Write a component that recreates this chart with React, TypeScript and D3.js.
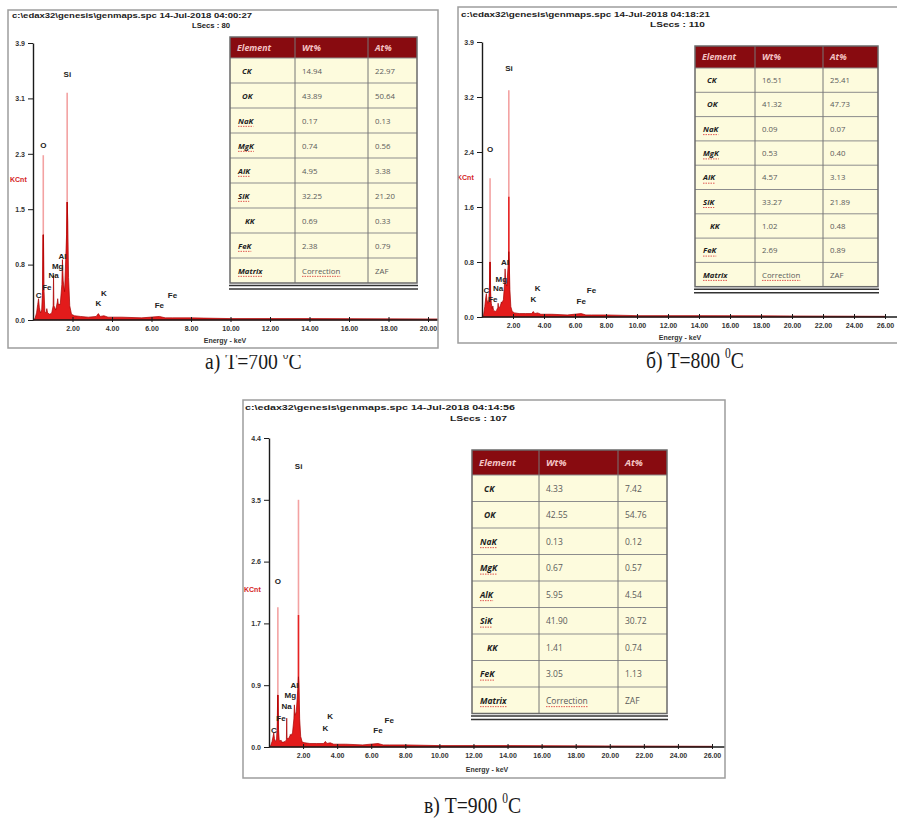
import React, { useEffect, useRef } from 'react';
import * as d3 from 'd3';

const W = 897;
const H = 818;

const FONT_SANS = "'Liberation Sans', Arial, sans-serif";
const FONT_TABLE = "'Open Sans', 'Liberation Sans', sans-serif";
const FONT_SERIF = "'Liberation Serif', 'Times New Roman', serif";

// quantification tables
const ELEMENTS = ['CK', 'OK', 'NaK', 'MgK', 'AlK', 'SiK', 'KK', 'FeK'];
const WT_700 = ['14.94', '43.89', '0.17', '0.74', '4.95', '32.25', '0.69', '2.38'];
const AT_700 = ['22.97', '50.64', '0.13', '0.56', '3.38', '21.20', '0.33', '0.79'];
const WT_800 = ['16.51', '41.32', '0.09', '0.53', '4.57', '33.27', '1.02', '2.69'];
const AT_800 = ['25.41', '47.73', '0.07', '0.40', '3.13', '21.89', '0.48', '0.89'];
const WT_900 = ['4.33', '42.55', '0.13', '0.67', '5.95', '41.90', '1.41', '3.05'];
const AT_900 = ['7.42', '54.76', '0.12', '0.57', '4.54', '30.72', '0.74', '1.13'];

// axis ticks
const X_TICKS = [2, 4, 6, 8, 10, 12, 14, 16, 18, 20, 22, 24, 26];
const Y_LABELS_700 = ['0.0', '0.8', '1.5', '2.3', '3.1', '3.9'];
const Y_LABELS_800 = ['0.0', '0.8', '1.6', '2.4', '3.2', '3.9'];
const Y_LABELS_900 = ['0.0', '0.9', '1.7', '2.6', '3.5', '4.4'];

// spectra (keV, KCnt)
const SPEC_KEV = [0.00, 0.10, 0.18, 0.24, 0.28, 0.32, 0.38, 0.44, 0.48, 0.51, 0.53, 0.56, 0.60, 0.66, 0.70, 0.74, 0.85, 0.95, 1.02, 1.04, 1.06, 1.15, 1.23, 1.25, 1.28, 1.38, 1.46, 1.49, 1.53, 1.60, 1.70, 1.73, 1.76, 1.80, 1.86, 1.95, 2.10, 2.40, 2.80, 3.20, 3.31, 3.40, 3.59, 3.80, 4.50, 5.50, 6.40, 6.70, 7.06, 8.00, 10.0, 14.0, 20.0, 26.0];
const COUNTS_700 = [0, 0.02, 0.10, 0.22, 0.30, 0.18, 0.10, 0.14, 0.40, 1.20, 1.20, 0.40, 0.12, 0.10, 0.16, 0.10, 0.08, 0.10, 0.20, 0.63, 0.20, 0.14, 0.25, 0.30, 0.22, 0.22, 0.50, 0.85, 0.55, 0.40, 1.20, 1.66, 1.40, 0.60, 0.20, 0.08, 0.06, 0.05, 0.04, 0.05, 0.09, 0.05, 0.06, 0.04, 0.04, 0.03, 0.05, 0.03, 0.03, 0.03, 0.02, 0.02, 0.015, 0.01];
const COUNTS_800 = [0, 0.03, 0.15, 0.28, 0.34, 0.25, 0.20, 0.25, 0.45, 0.80, 0.80, 0.35, 0.20, 0.12, 0.16, 0.10, 0.08, 0.10, 0.14, 0.20, 0.15, 0.14, 0.20, 0.22, 0.20, 0.25, 0.50, 0.70, 0.50, 0.45, 0.80, 0.95, 0.80, 0.40, 0.15, 0.08, 0.06, 0.05, 0.05, 0.05, 0.08, 0.05, 0.06, 0.04, 0.04, 0.03, 0.05, 0.03, 0.03, 0.03, 0.02, 0.02, 0.015, 0.01];
const COUNTS_900 = [0, 0.02, 0.08, 0.15, 0.20, 0.12, 0.08, 0.10, 0.30, 0.74, 0.74, 0.25, 0.10, 0.08, 0.10, 0.07, 0.07, 0.08, 0.10, 0.41, 0.12, 0.12, 0.16, 0.18, 0.16, 0.20, 0.40, 0.60, 0.45, 0.50, 0.85, 1.00, 0.85, 0.40, 0.15, 0.07, 0.06, 0.05, 0.05, 0.05, 0.08, 0.05, 0.06, 0.04, 0.04, 0.03, 0.05, 0.03, 0.03, 0.03, 0.02, 0.02, 0.015, 0.01];

// thin peak tips (O and Si)
const TIP_KEV = [0.52, 1.73];
const TIP_700 = [2.32, 3.2];
const MID_700 = [1.2, 1.66];
const TIP_800 = [2.02, 3.3];
const MID_800 = [0.8, 1.75];
const TIP_900 = [1.99, 3.52];
const MID_900 = [0.74, 1.88];

// line markers
const LINE_NAMES = ['Si', 'O', 'Al', 'Mg', 'Na', 'Fe', 'C', 'K', 'K', 'Fe', 'Fe'];
const LINE_KEV = [1.74, 0.52, 1.49, 1.25, 1.04, 0.70, 0.28, 3.59, 3.31, 7.06, 6.40];
const LABEL_Y_700 = [3.45, 2.46, 0.90, 0.76, 0.62, 0.46, 0.35, 0.38, 0.23, 0.34, 0.20];
const LABEL_Y_800 = [3.62, 2.43, 0.79, 0.54, 0.41, 0.25, 0.39, 0.41, 0.26, 0.38, 0.23];
const LABEL_Y_900 = [3.99, 2.36, 0.87, 0.73, 0.57, 0.40, 0.24, 0.43, 0.27, 0.38, 0.23];

const PANELS = [
  {
    id: 'a', letter: 'а)', temp: '700',
    header: 'c:\\edax32\\genesis\\genmaps.spc  14-Jul-2018 04:00:27', lsecs: 'LSecs : 80',
    yMax: 3.9, yLabels: Y_LABELS_700, counts: COUNTS_700, tips: TIP_700, mids: MID_700, labelY: LABEL_Y_700,
    wt: WT_700, at: AT_700,
    frame: [8, 10, 430, 338], x0: 33, x1: 546.5, y0: 320, yTop: 43,
    h1: [12, 18, 240], h2: [192, 28, 38], kcnt: [10, 182], energy: [225, 343],
    table: { cols: [230, 295, 368, 417], top: 37, headH: 21, rowH: 25, fs: 7.8, hfs: 8.8 },
    caption: [205, 369], capClip: 355,
  },
  {
    id: 'b', letter: 'б)', temp: '800',
    header: 'c:\\edax32\\genesis\\genmaps.spc  14-Jul-2018 04:18:21', lsecs: 'LSecs : 110',
    yMax: 4.0, yLabels: Y_LABELS_800, counts: COUNTS_800, tips: TIP_800, mids: MID_800, labelY: LABEL_Y_800,
    wt: WT_800, at: AT_800,
    frame: [458, 7, 460, 336], x0: 482, x1: 885, y0: 317, yTop: 42,
    h1: [461, 17, 249], h2: [650, 27, 55], kcnt: [457, 180], energy: [680, 340],
    table: { cols: [695, 755, 823, 878], top: 46, headH: 22, rowH: 24.3, fs: 7.8, hfs: 8.8 },
    caption: [646, 368], capClip: 0,
  },
  {
    id: 'c', letter: 'в)', temp: '900',
    header: 'c:\\edax32\\genesis\\genmaps.spc  14-Jul-2018 04:14:56', lsecs: 'LSecs : 107',
    yMax: 4.4, yLabels: Y_LABELS_900, counts: COUNTS_900, tips: TIP_900, mids: MID_900, labelY: LABEL_Y_900,
    wt: WT_900, at: AT_900,
    frame: [243, 400, 482, 378], x0: 269, x1: 712, y0: 747, yTop: 438,
    h1: [245, 410, 270], h2: [450, 421, 57], kcnt: [244, 592], energy: [487, 772],
    table: { cols: [472, 539, 618, 667], top: 450, headH: 25, rowH: 26.5, fs: 8.5, hfs: 9.5 },
    caption: [424, 813], capClip: 0,
  },
];

type PanelSpec = typeof PANELS[number];

const SPELL_MARKED = new Set(['NaK', 'MgK', 'AlK', 'SiK', 'FeK', 'Matrix', 'Correction']);

function drawTable(g: d3.Selection<SVGGElement, unknown, null, undefined>, p: PanelSpec) {
  const t = p.table;
  const [c0, c1, c2, c3] = t.cols;
  const rowNames = [...ELEMENTS, 'Matrix'];
  const rows = [...ELEMENTS.map((e, i) => [e, p.wt[i], p.at[i]]), ['Matrix', 'Correction', 'ZAF']];
  const bodyTop = t.top + t.headH;
  const bottom = bodyTop + rowNames.length * t.rowH;
  const band = d3.scaleBand().domain(rowNames).range([bodyTop, bottom]);

  const tg = g.append('g');
  tg.append('rect').attr('x', c0).attr('y', t.top).attr('width', c3 - c0).attr('height', bottom - t.top).attr('fill', '#fdfbdd');
  tg.append('rect').attr('x', c0).attr('y', t.top).attr('width', c3 - c0).attr('height', t.headH).attr('fill', '#880b10');

  // row separators
  tg.selectAll('line.row')
    .data(rowNames)
    .join('line')
    .attr('x1', c0).attr('x2', c3)
    .attr('y1', d => band(d)!).attr('y2', d => band(d)!)
    .attr('stroke', '#8d8d8d').attr('stroke-width', 1);

  tg.selectAll('line.col')
    .data([c1, c2])
    .join('line')
    .attr('x1', d => d).attr('x2', d => d)
    .attr('y1', t.top).attr('y2', bottom)
    .attr('stroke', '#777').attr('stroke-width', 1);

  tg.append('rect').attr('x', c0).attr('y', t.top).attr('width', c3 - c0).attr('height', bottom - t.top)
    .attr('fill', 'none').attr('stroke', '#6a6a6a').attr('stroke-width', 1.5);

  // double rule under the table
  [2.5, 6].forEach(off => {
    tg.append('line').attr('x1', c0 - 1).attr('x2', c3 + 1).attr('y1', bottom + off).attr('y2', bottom + off)
      .attr('stroke', '#333').attr('stroke-width', 1.6);
  });

  // header
  ['Element', 'Wt%', 'At%'].forEach((h, i) => {
    tg.append('text')
      .attr('x', t.cols[i] + 7).attr('y', t.top + t.headH / 2)
      .attr('dominant-baseline', 'central')
      .attr('font-family', FONT_TABLE).attr('font-size', t.hfs)
      .attr('font-style', 'italic').attr('font-weight', 'bold')
      .attr('fill', '#f4c4c4')
      .text(h);
  });

  rows.forEach((r, ri) => {
    const cy = band(rowNames[ri])! + band.bandwidth() / 2;
    r.forEach((val, ci) => {
      const isName = ci === 0;
      const indent = isName ? (['CK', 'OK'].includes(val) ? 12 : val === 'KK' ? 15 : 8) : 7;
      const txt = tg.append('text')
        .attr('x', t.cols[ci] + indent).attr('y', cy)
        .attr('dominant-baseline', 'central')
        .attr('font-family', FONT_TABLE).attr('font-size', t.fs)
        .attr('font-style', isName ? 'italic' : 'normal')
        .attr('font-weight', isName ? 'bold' : 'normal')
        .attr('fill', isName ? '#1e1e1e' : '#5a5a5a')
        .text(val);
      if (SPELL_MARKED.has(val)) {
        const w = (txt.node() as SVGTextElement).getComputedTextLength();
        tg.append('line')
          .attr('x1', t.cols[ci] + indent).attr('x2', t.cols[ci] + indent + w)
          .attr('y1', cy + t.fs * 0.75).attr('y2', cy + t.fs * 0.75)
          .attr('stroke', '#d83030').attr('stroke-width', 0.8).attr('stroke-dasharray', '1.5,1');
      }
    });
  });
}

function drawPanel(svg: d3.Selection<SVGSVGElement, unknown, null, undefined>, defs: d3.Selection<SVGDefsElement, unknown, null, undefined>, p: PanelSpec) {
  const [fx, fy, fw, fh] = p.frame;
  defs.append('clipPath').attr('id', `clip-${p.id}`)
    .append('rect').attr('x', fx).attr('y', fy).attr('width', fw).attr('height', fh);

  const g = svg.append('g').attr('clip-path', `url(#clip-${p.id})`);
  g.append('rect').attr('x', fx).attr('y', fy).attr('width', fw).attr('height', fh).attr('fill', '#fff');

  const x = d3.scaleLinear().domain([0, 26]).range([p.x0, p.x1]);
  const y = d3.scaleLinear().domain([0, p.yMax]).range([p.y0, p.yTop]);

  // pale peak tips, then brighter middle part, then filled spectrum
  g.selectAll('line.tip')
    .data(d3.zip(TIP_KEV, p.tips))
    .join('line')
    .attr('x1', d => x(d[0])).attr('x2', d => x(d[0]))
    .attr('y1', p.y0).attr('y2', d => y(d[1]))
    .attr('stroke', '#f3a2a2').attr('stroke-width', 1.6);

  g.selectAll('line.mid')
    .data(d3.zip(TIP_KEV, p.mids))
    .join('line')
    .attr('x1', d => x(d[0])).attr('x2', d => x(d[0]))
    .attr('y1', p.y0).attr('y2', d => y(d[1]))
    .attr('stroke', '#e62222').attr('stroke-width', 1.5);

  const area = d3.area<[number, number]>()
    .x(d => x(d[0]))
    .y0(p.y0)
    .y1(d => y(d[1]));
  g.append('path')
    .attr('d', area(d3.zip(SPEC_KEV, p.counts) as [number, number][]))
    .attr('fill', '#e31b1b')
    .attr('stroke', '#a60000')
    .attr('stroke-width', 0.7);

  // y axis
  const yAxis = d3.axisLeft(y)
    .tickValues(d3.range(6).map(i => (p.yMax * i) / 5))
    .tickFormat((_, i) => p.yLabels[i])
    .tickSize(5)
    .tickSizeOuter(0)
    .tickPadding(3);
  const ya = g.append('g').attr('transform', `translate(${p.x0},0)`).call(yAxis);
  ya.attr('font-family', FONT_SANS).attr('font-size', 7).attr('font-weight', 'bold');
  ya.select('.domain').attr('stroke', '#1a1a1a').attr('stroke-width', 1.4);
  ya.selectAll('.tick line').attr('stroke', '#1a1a1a');
  ya.selectAll('.tick text').attr('fill', '#333');

  // x axis
  const xAxis = d3.axisBottom(x)
    .tickValues(X_TICKS)
    .tickFormat(d => d3.format('.2f')(d as number))
    .tickSizeInner(-3)
    .tickSizeOuter(0)
    .tickPadding(6);
  const xa = g.append('g').attr('transform', `translate(0,${p.y0})`).call(xAxis);
  xa.attr('font-family', FONT_SANS).attr('font-size', 7).attr('font-weight', 'bold');
  xa.select('.domain').remove();
  xa.selectAll('.tick line').attr('y1', 2).attr('stroke', '#1a1a1a');
  xa.selectAll('.tick text').attr('fill', '#333');
  g.append('line')
    .attr('x1', p.x0).attr('x2', fx + fw)
    .attr('y1', p.y0).attr('y2', p.y0)
    .attr('stroke', '#1a1a1a').attr('stroke-width', 1.6);

  // line markers
  g.selectAll('text.marker')
    .data(d3.zip(LINE_NAMES, LINE_KEV, p.labelY) as [string, number, number][])
    .join('text')
    .attr('x', d => x(d[1]))
    .attr('y', d => y(d[2]))
    .attr('text-anchor', 'middle')
    .attr('dominant-baseline', 'central')
    .attr('font-family', FONT_SANS).attr('font-size', 8).attr('font-weight', 'bold')
    .attr('fill', '#222')
    .text(d => d[0]);

  g.append('text')
    .attr('x', p.kcnt[0]).attr('y', p.kcnt[1])
    .attr('font-family', FONT_SANS).attr('font-size', 7).attr('font-weight', 'bold')
    .attr('fill', '#d42424')
    .text('KCnt');

  g.append('text')
    .attr('x', p.energy[0]).attr('y', p.energy[1])
    .attr('text-anchor', 'middle')
    .attr('font-family', FONT_SANS).attr('font-size', 7).attr('font-weight', 'bold')
    .attr('fill', '#333')
    .text('Energy - keV');

  // file header
  g.append('text')
    .attr('x', p.h1[0]).attr('y', p.h1[1])
    .attr('textLength', p.h1[2]).attr('lengthAdjust', 'spacingAndGlyphs')
    .attr('font-family', FONT_SANS).attr('font-size', 7.5).attr('font-weight', 'bold')
    .attr('fill', '#222')
    .text(p.header);
  g.append('text')
    .attr('x', p.h2[0]).attr('y', p.h2[1])
    .attr('textLength', p.h2[2]).attr('lengthAdjust', 'spacingAndGlyphs')
    .attr('font-family', FONT_SANS).attr('font-size', 7.5).attr('font-weight', 'bold')
    .attr('fill', '#222')
    .text(p.lsecs);

  drawTable(g, p);

  svg.append('rect')
    .attr('x', fx).attr('y', fy).attr('width', fw).attr('height', fh)
    .attr('fill', 'none').attr('stroke', '#9d9d9d').attr('stroke-width', 1.5);

  // caption under the panel
  const capG = svg.append('g');
  if (p.capClip) {
    defs.append('clipPath').attr('id', `capclip-${p.id}`)
      .append('rect').attr('x', 0).attr('y', p.capClip).attr('width', W).attr('height', 60);
    capG.attr('clip-path', `url(#capclip-${p.id})`);
  }
  const cap = capG.append('text')
    .attr('transform', `translate(${p.caption[0]},${p.caption[1]}) scale(0.82,1)`)
    .attr('font-family', FONT_SERIF).attr('font-size', 24).attr('fill', '#1a1a1a');
  cap.append('tspan').text(`${p.letter} T=${p.temp} `);
  cap.append('tspan').attr('font-size', 14).attr('dy', -10).text('0');
  cap.append('tspan').attr('dy', 10).text('C');
}

export default function App() {
  const svgRef = useRef<SVGSVGElement>(null);

  useEffect(() => {
    if (!svgRef.current) return;
    const svg = d3.select(svgRef.current);
    svg.selectAll('*').remove();
    svg.append('rect').attr('width', W).attr('height', H).attr('fill', '#fff');
    const defs = svg.append('defs');
    PANELS.forEach(p => drawPanel(svg, defs, p));
  }, []);

  return (
    <svg
      ref={svgRef}
      width={W}
      height={H}
      style={{ position: 'absolute', left: 0, top: 0, display: 'block' }}
    />
  );
}
